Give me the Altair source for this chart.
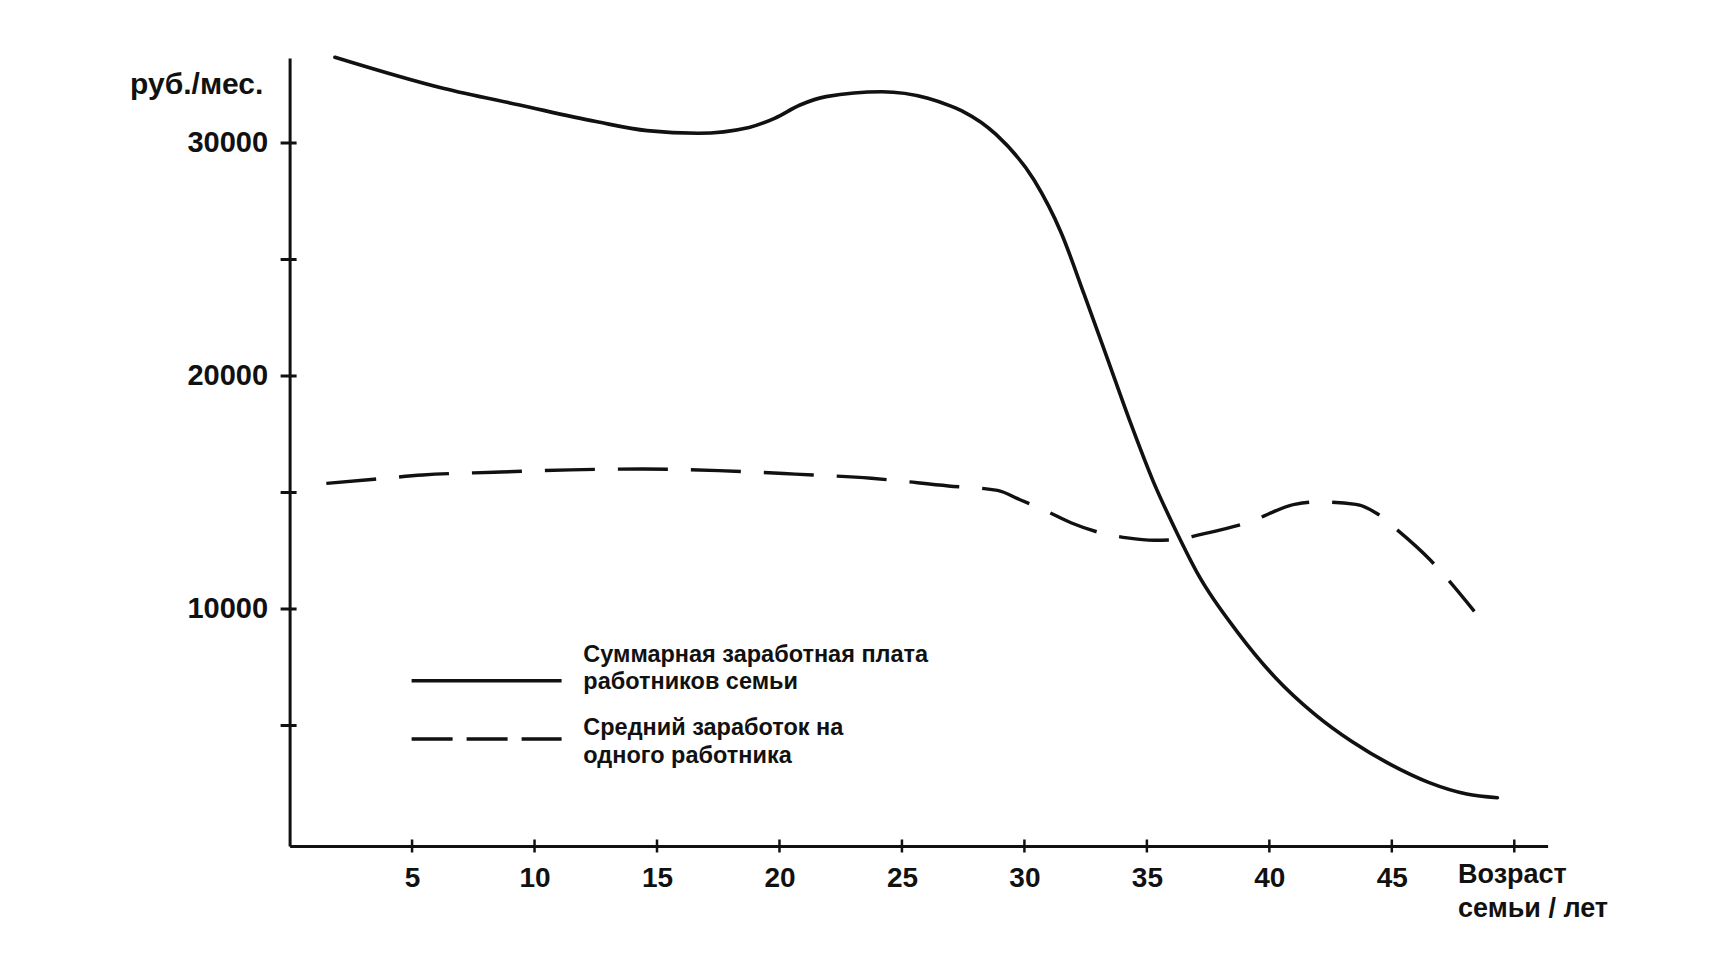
import altair as alt
import pandas as pd

# ---- data ----
total_age = [1.85, 6.26, 9.39, 12.51, 14.6, 16.68, 18.76, 19.8, 20.84, 21.9, 24.18,
             26.06, 27.0, 27.52, 28.84, 30.4, 31.5, 32.44, 33.37, 34.31, 35.25,
             36.19, 37.12, 38.69, 40.25, 41.81, 43.37, 44.94, 46.5, 48.06, 49.31]
total_pay = [33680, 32350, 31630, 30920, 30530, 30420, 30670, 31060, 31630, 31990, 32200,
             31920, 31580, 31340, 30370, 28400, 26150, 23500, 20800, 18050, 15500,
             13350, 11430, 9020, 7050, 5520, 4310, 3330, 2560, 2060, 1900]

avg_age = [1.5, 3.45, 5.43, 8.35, 11.47, 14.39, 17.52, 20.64, 23.75, 26.9, 28.9,
           29.8, 30.9, 31.9, 33.0, 34.2, 35.3, 36.2, 37.12, 39.16, 41.03, 41.97,
           43.53, 44.39, 45.09, 46.58, 47.12, 48.37]
avg_pay = [15390, 15570, 15750, 15870, 15970, 16010, 15940, 15790, 15610, 15280, 15090,
           14700, 14200, 13700, 13300, 13050, 12950, 12970, 13180, 13730, 14490, 14600,
           14490, 14100, 13510, 12090, 11470, 9900]

x_tick_values = [5, 10, 15, 20, 25, 30, 35, 40, 45, 50]
x_label_values = [5, 10, 15, 20, 25, 30, 35, 40, 45]
y_tick_values = [5000, 10000, 15000, 20000, 25000, 30000]
y_label_values = [10000, 20000, 30000]

legend_total = ["Суммарная заработная плата", "работников семьи"]
legend_avg = ["Средний заработок на", "одного работника"]
x_title = ["Возраст", "семьи / лет"]
y_title = "руб./мес."

# ---- styling ----
FONT = "Liberation Sans"
INK = "#111111"
W, H = 1258, 788

xscale = alt.Scale(domain=[0, 51.36], nice=False, zero=False)
yscale = alt.Scale(domain=[-172, 33648], nice=False, zero=False)

xaxis = alt.Axis(
    values=x_label_values, ticks=False, grid=False,
    domainColor=INK, domainWidth=3,
    labelFont=FONT, labelFontSize=28, labelFontWeight="bold", labelColor=INK,
    labelPadding=19, labelFlush=False, labelOverlap=False,
    title=x_title, titleX=1168, titleY=37, titleAlign="left",
    titleBaseline="alphabetic", titleAngle=0,
    titleFont=FONT, titleFontSize=27, titleFontWeight="bold", titleColor=INK,
    titleLineHeight=34,
)
yaxis = alt.Axis(
    values=y_label_values, format="d", ticks=False, grid=False,
    domainColor=INK, domainWidth=3,
    labelFont=FONT, labelFontSize=29, labelFontWeight="bold", labelColor=INK,
    labelPadding=22, labelFlush=False, labelOverlap=False,
    title=y_title, titleX=-160, titleY=35, titleAlign="left",
    titleBaseline="alphabetic", titleAngle=0,
    titleFont=FONT, titleFontSize=30, titleFontWeight="bold", titleColor=INK,
)

total_df = pd.DataFrame({"age": total_age, "pay": total_pay})
avg_df = pd.DataFrame({"age": avg_age, "pay": avg_pay})
xt_df = pd.DataFrame({"age": x_tick_values})
yt_df = pd.DataFrame({"pay": y_tick_values})
one = pd.DataFrame({"k": [0]})

total_line = alt.Chart(total_df).mark_line(
    color=INK, strokeWidth=3.6, interpolate="monotone", strokeCap="round"
).encode(
    x=alt.X("age:Q", scale=xscale, axis=xaxis),
    y=alt.Y("pay:Q", scale=yscale, axis=yaxis),
)

avg_line = alt.Chart(avg_df).mark_line(
    color=INK, strokeWidth=3.4, interpolate="monotone", strokeDash=[50, 23], strokeCap="butt"
).encode(
    x=alt.X("age:Q", scale=xscale, axis=xaxis),
    y=alt.Y("pay:Q", scale=yscale, axis=yaxis),
)

x_ticks = alt.Chart(xt_df).mark_tick(
    orient="vertical", size=13, thickness=2.5, color=INK, opacity=1
).encode(
    x=alt.X("age:Q", scale=xscale, axis=xaxis),
    y=alt.value(H),
)

y_ticks = alt.Chart(yt_df).mark_tick(
    orient="horizontal", size=16, thickness=3, color=INK, opacity=1
).encode(
    y=alt.Y("pay:Q", scale=yscale, axis=yaxis),
    x=alt.value(-1),
)

leg_solid = alt.Chart(one).mark_rule(color=INK, strokeWidth=3.6).encode(
    x=alt.value(122), x2=alt.value(272), y=alt.value(622.7)
)
leg_dash = alt.Chart(one).mark_rule(color=INK, strokeWidth=3.6, strokeDash=[41, 14]).encode(
    x=alt.value(122), x2=alt.value(272), y=alt.value(681)
)
leg_text1 = alt.Chart(one).mark_text(
    text=legend_total, align="left", baseline="alphabetic", font=FONT,
    fontSize=23.5, fontWeight="bold", lineHeight=27, color=INK
).encode(x=alt.value(293.7), y=alt.value(604))
leg_text2 = alt.Chart(one).mark_text(
    text=legend_avg, align="left", baseline="alphabetic", font=FONT,
    fontSize=23.5, fontWeight="bold", lineHeight=28.5, color=INK
).encode(x=alt.value(293.7), y=alt.value(677))

chart = alt.layer(
    avg_line, total_line, x_ticks, y_ticks, leg_solid, leg_dash, leg_text1, leg_text2
).properties(
    width=W, height=H,
    padding={"left": 281.6, "top": 50, "right": 180, "bottom": 102},
    autosize=alt.AutoSizeParams(type="none"),
    background="white",
).configure_view(stroke=None)

chart.save("out.html", embed_options={"renderer": "svg", "actions": False})
